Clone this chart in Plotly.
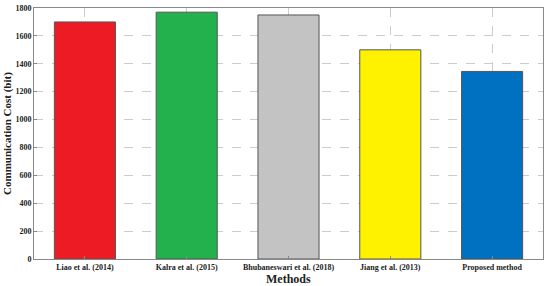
import plotly.graph_objects as go

methods = ["Liao et al. (2014)", "Kalra et al. (2015)", "Bhubaneswari et al. (2018)",
           "Jiang et al. (2013)", "Proposed method"]
costs = [1700, 1770, 1750, 1500, 1345]
colors = ["#ED1C24", "#22B14C", "#C3C3C3", "#FFF200", "#0070C0"]
y_ticks = [0, 200, 400, 600, 800, 1000, 1200, 1400, 1600, 1800]

font_family = "Liberation Serif"

fig = go.Figure(go.Bar(
    x=methods, y=costs,
    marker=dict(color=colors, line=dict(color="#555555", width=1)),
    width=0.6,
))

fig.update_layout(
    width=550, height=286,
    margin=dict(l=34, r=7, t=8, b=27, autoexpand=False),
    plot_bgcolor="white", paper_bgcolor="white",
    showlegend=False,
    font=dict(family=font_family, color="#222222"),
    annotations=[
        dict(text="<b>Methods</b>", xref="paper", yref="paper", x=0.5, y=-0.043,
             xanchor="center", yanchor="top", showarrow=False,
             font=dict(family=font_family, size=12, color="#222222")),
        dict(text="<b>Communication Cost (bit)</b>", xref="paper", yref="paper",
             x=-0.0688, y=0.5, xanchor="left", yanchor="middle", textangle=-90, showarrow=False,
             font=dict(family=font_family, size=11, color="#222222")),
    ],
)
fig.update_xaxes(
    range=[-0.5, 4.5], automargin=False,
    showgrid=True, gridcolor="#CCCCCC", griddash="dash", gridwidth=1,
    showline=True, linecolor="#888888", linewidth=1, mirror=True,
    ticks="inside", ticklen=3, tickcolor="#888888",
    tickfont=dict(family=font_family, size=8, color="#222222", weight="bold"),
)
fig.update_yaxes(
    range=[0, 1800], tickvals=y_ticks, automargin=False,
    showgrid=True, gridcolor="#CCCCCC", griddash="dash", gridwidth=1,
    showline=True, linecolor="#888888", linewidth=1, mirror=True,
    ticks="inside", ticklen=3, tickcolor="#888888",
    tickfont=dict(family=font_family, size=8, color="#222222", weight="bold"),
    zeroline=False,
)

fig.write_html("out.html", config={"displayModeBar": False},
               post_script="document.body.style.margin='0px';document.body.style.padding='0px';")
